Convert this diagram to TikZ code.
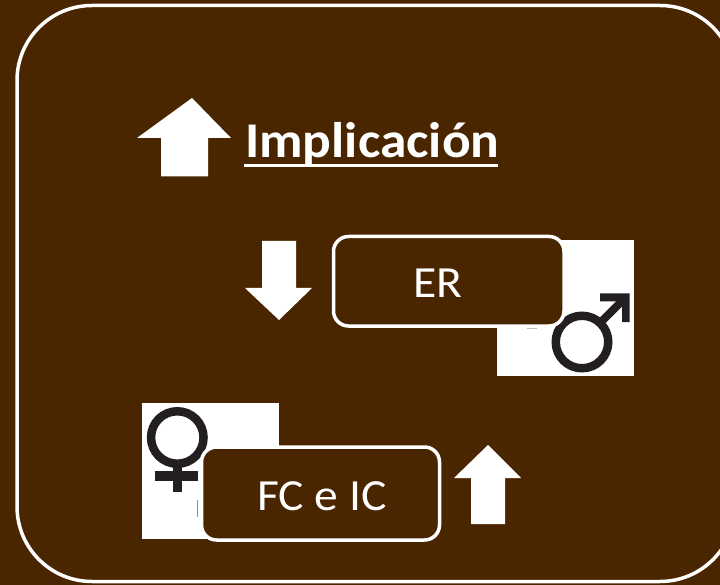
\documentclass[tikz,border=0pt]{standalone}
\usepackage{fontspec}
\setmainfont{Carlito}
\newfontfamily\widefont[FakeStretch=1.07]{Carlito}
\definecolor{bgbrown}{HTML}{4A2600}
\definecolor{symdark}{HTML}{231F20}
\tikzset{
  arrowshape/.style={fill=white,draw=none},
  photo/.style={fill=white,draw=none},
  labelbox/.style={fill=bgbrown,draw=white,line width=3.5pt,rounded corners=15pt},
  symstroke/.style={draw=symdark,line width=8.5pt},
  boxtext/.style={text=white,inner sep=0pt,anchor=base,font=\widefont\fontsize{44.5}{44.5}\selectfont}
}
\begin{document}
\begin{tikzpicture}[x=1pt,y=-1pt]
\fill[bgbrown] (0,0) rectangle (720,585);
\useasboundingbox (0,0) rectangle (720,585);
% outer frame
\begin{scope}
\clip (0,0) rectangle (720,585);
\draw[white,line width=3.5pt,rounded corners=75pt] (17,5.5) rectangle (735,581.5);
\end{scope}
% title
\path[arrowshape] (192,98) -- (231,138) -- (208,138) -- (208,176.5) -- (161,176.5) -- (161,138) -- (137,138) -- cycle;
\node[text=white,inner sep=0pt,anchor=base west,font=\widefont\fontsize{50}{50}\selectfont\bfseries] (title) at (245,158) {Implicación};
\fill[white] (243.5,164.3) rectangle (498,167.5);
% male
\fill[photo] (497,240) rectangle (634,376);
\draw[symstroke] (582,342) circle (26.25);
\draw[symdark,line width=8pt] (600,323) -- (624,299);
\path[fill=symdark] (600,293.5) -- (629.5,293.5) -- (629.5,322) -- (622,322) -- (622,301.5) -- (600,301.5) -- cycle;
\fill[black!25] (527,327.5) rectangle (537,329);
% female
\fill[photo] (142,403) rectangle (279,539);
\draw[symstroke] (177.3,437.5) circle (26.25);
\fill[symdark] (172.5,464) rectangle (181.5,491.5);
\fill[symdark] (154.5,471) rectangle (198,481);
\fill[black!45] (196.5,500) rectangle (198,517);
% boxes
\draw[labelbox] (333.5,236.5) rectangle (564,326) node[midway,opacity=0] (erbox) {};
\node[boxtext] (er) at (438,298) {ER};
\path[arrowshape] (262,241) -- (296,241) -- (296,288) -- (312,288) -- (279,320) -- (245,288) -- (262,288) -- cycle;
\draw[labelbox] (201.5,447) rectangle (439.5,540) node[midway,opacity=0] (fcbox) {};
\node[boxtext] (fc) at (322,510) {FC e IC};
\path[arrowshape] (488,445) -- (521,478) -- (505,478) -- (505,524) -- (471,524) -- (471,478) -- (454,478) -- cycle;
\end{tikzpicture}
\end{document}
